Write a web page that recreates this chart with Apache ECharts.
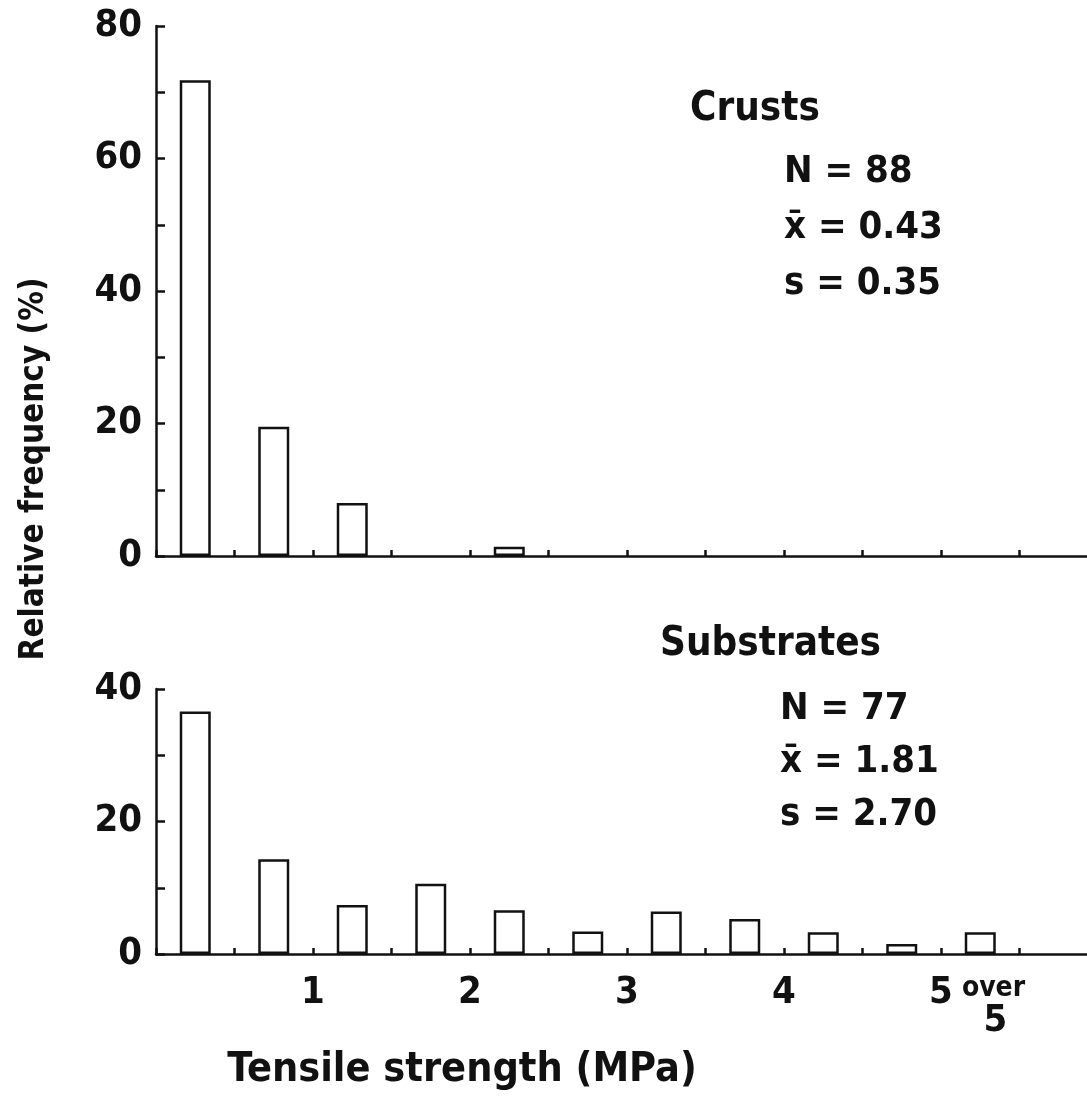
<!DOCTYPE html>
<html>
<head>
<meta charset="utf-8">
<script src="https://cdn.jsdelivr.net/npm/echarts@6/dist/echarts.min.js"></script>
<style>
  html, body { margin: 0; padding: 0; background: #fff; }
  #chart { width: 1087px; height: 1096px; }
</style>
</head>
<body>
<div id="chart"></div>
<script>
// bin centres (MPa), last bin is "over 5"
var binCenters = [0.25, 0.75, 1.25, 1.75, 2.25, 2.75, 3.25, 3.75, 4.25, 4.75, 5.25];
var crustValues = [71.8, 19.5, 8.0, 0, 1.4, 0, 0, 0, 0, 0, 0];
var substrateValues = [36.6, 14.3, 7.4, 10.6, 6.6, 3.4, 6.4, 5.3, 3.3, 1.5, 3.3];
var xTickLabels = ['1', '2', '3', '4', '5'];
var crustStats = ['N = 88', 'x\u0304 = 0.43', 's = 0.35'];
var substrateStats = ['N = 77', 'x\u0304 = 1.81', 's = 2.70'];

var FONT = '"Liberation Sans Narrow", "DejaVu Sans Condensed", sans-serif';
var INK = '#111';

function pairs(vals) {
    var out = [];
    vals.forEach(function(v, i) {
        if (v > 0) out.push([binCenters[i], v]);
    });
    return out;
}

function xAxisOpt(idx, showLabels) {
    return {
        type: 'value',
        gridIndex: idx,
        min: 0,
        max: 6,
        interval: 0.5,
        splitLine: { show: false },
        axisLine: { onZero: false, lineStyle: { color: INK, width: 2.5 } },
        axisTick: { inside: true, length: 6, lineStyle: { color: INK, width: 2.5 } },
        axisLabel: {
            show: showLabels,
            margin: 20,
            color: INK,
            fontFamily: FONT,
            fontWeight: 'bold',
            fontSize: 38,
            showMinLabel: true,
            showMaxLabel: true,
            formatter: function(v) {
                if (Math.abs(v - 5.5) < 1e-6) return '{o|over}\n{f|5}';
                if (v % 1 === 0 && v >= 1 && v <= 5) return xTickLabels[v - 1];
                return '';
            },
            rich: {
                o: { fontFamily: FONT, fontWeight: 'bold', fontSize: 28, color: INK, lineHeight: 30, padding: [0, 52, 0, 0] },
                f: { fontFamily: FONT, fontWeight: 'bold', fontSize: 38, color: INK, lineHeight: 34, align: 'center', padding: [0, 48, 0, 0] }
            }
        }
    };
}

function yAxisOpt(idx, max) {
    return {
        type: 'value',
        gridIndex: idx,
        min: 0,
        max: max,
        interval: 10,
        splitLine: { show: false },
        axisLine: { show: true, lineStyle: { color: INK, width: 2.5 } },
        axisTick: { show: true, inside: true, length: 9, lineStyle: { color: INK, width: 2.5 } },
        axisLabel: {
            margin: 14,
            color: INK,
            fontFamily: FONT,
            fontWeight: 'bold',
            fontSize: 38,
            formatter: function(v) { return v % 20 === 0 ? String(v) : ''; }
        }
    };
}

function barSeries(idx, vals) {
    return {
        type: 'bar',
        xAxisIndex: idx,
        yAxisIndex: idx,
        barWidth: 31,
        data: pairs(vals),
        itemStyle: { color: '#fff', borderColor: INK, borderWidth: 2.5 },
        emphasis: { disabled: true },
        z: 1
    };
}

function statText(lines, x, yFirst, step) {
    return lines.map(function(t, i) {
        return {
            type: 'text',
            left: x,
            top: yFirst + i * step,
            style: { text: t, fontFamily: FONT, fontWeight: 'bold', fontSize: 38, fill: INK }
        };
    });
}

var chart = echarts.init(document.getElementById('chart'));

var graphics = [
    {
        type: 'text', left: 690, top: 90,
        style: { text: 'Crusts', fontFamily: FONT, fontWeight: 'bold', fontSize: 40, fill: INK }
    },
    {
        type: 'text', left: 660, top: 625,
        style: { text: 'Substrates', fontFamily: FONT, fontWeight: 'bold', fontSize: 40, fill: INK }
    },
    {
        type: 'text', x: 34, y: 469, rotation: Math.PI / 2,
        style: { text: 'Relative frequency (%)', fontFamily: FONT, fontWeight: 'bold', fontSize: 33, fill: INK, align: 'center', verticalAlign: 'middle' }
    },
    {
        type: 'text', x: 462, y: 1070,
        style: { text: 'Tensile strength (MPa)', fontFamily: FONT, fontWeight: 'bold', fontSize: 41, fill: INK, align: 'center', verticalAlign: 'middle' }
    }
].concat(statText(crustStats, 784, 153, 56)).concat(statText(substrateStats, 780, 690, 53));

var option = {
    animation: false,
    backgroundColor: '#fff',
    grid: [
        { left: 156, top: 26, width: 942, height: 530, outerBoundsMode: 'none' },
        { left: 156, top: 689, width: 942, height: 265, outerBoundsMode: 'none' }
    ],
    xAxis: [xAxisOpt(0, false), xAxisOpt(1, true)],
    yAxis: [yAxisOpt(0, 80), yAxisOpt(1, 40)],
    series: [barSeries(0, crustValues), barSeries(1, substrateValues)],
    graphic: graphics
};

chart.setOption(option);
</script>
</body>
</html>
